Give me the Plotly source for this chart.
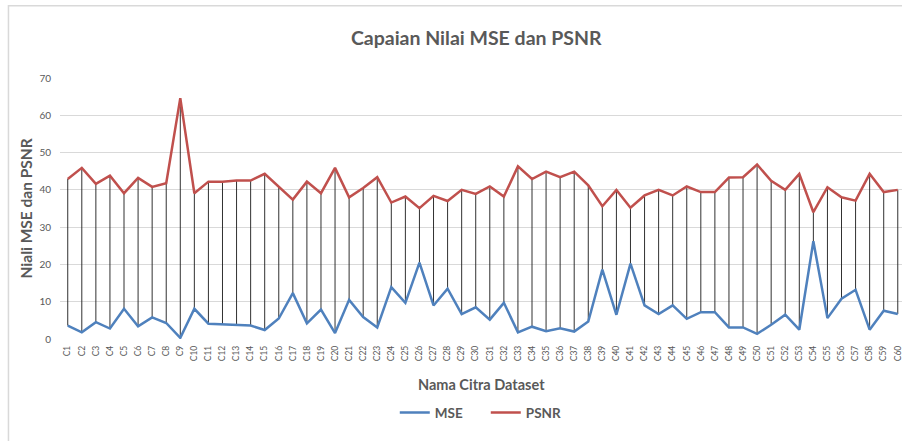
import plotly.graph_objects as go

categories = [f"C{i}" for i in range(1, 61)]

mse = [3.6, 1.8, 4.5, 2.8, 8.1, 3.4, 5.8, 4.3, 0.3, 8.1,
       4.1, 3.9, 3.6, 3.6, 2.4, 5.5, 12.3, 4.2, 7.9, 1.6,
       10.5, 5.9, 3.1, 13.9, 9.7, 20.5, 9.0, 13.5, 6.7, 8.5,
       5.2, 9.7, 1.8, 3.3, 2.1, 2.9, 2.0, 4.7, 18.6, 6.5,
       20.2, 9.0, 6.7, 9.0, 5.4, 7.2, 7.2, 3.1, 3.1, 1.4,
       3.8, 6.5, 2.5, 26.2, 5.6, 10.8, 13.2, 2.5, 7.6, 6.7]

psnr = [42.9, 45.9, 41.6, 43.8, 39.1, 43.2, 40.8, 41.8, 64.6, 39.1,
        42.2, 42.2, 42.5, 42.5, 44.3, 40.8, 37.4, 42.2, 39.1, 45.9,
        38.0, 40.5, 43.4, 36.6, 38.2, 35.1, 38.4, 37.0, 40.0, 38.9,
        40.9, 38.2, 46.3, 42.9, 44.9, 43.4, 44.9, 41.2, 35.6, 40.0,
        35.2, 38.5, 40.0, 38.5, 40.9, 39.4, 39.4, 43.3, 43.4, 46.8,
        42.4, 40.0, 44.3, 34.0, 40.7, 38.0, 37.1, 44.3, 39.4, 40.0]

y_ticks = [0, 10, 20, 30, 40, 50, 60, 70]

TXT = "#595959"
FONT = "Lato"

# high-low connector lines
hx, hy = [], []
for c, a, b in zip(categories, mse, psnr):
    hx += [c, c, None]
    hy += [a, b, None]

fig = go.Figure()
fig.add_trace(go.Scatter(x=hx, y=hy, mode="lines",
                         line=dict(color="#1a1a1a", width=0.9),
                         showlegend=False, hoverinfo="skip"))
fig.add_trace(go.Scatter(x=categories, y=mse, mode="lines", name="<b>MSE</b>",
                         line=dict(color="#4F81BD", width=2.5)))
fig.add_trace(go.Scatter(x=categories, y=psnr, mode="lines", name="<b>PSNR</b>",
                         line=dict(color="#C0504D", width=2.5)))

fig.update_layout(
    width=902, height=441,
    margin=dict(l=60, r=0, t=78, b=102, autoexpand=False),
    paper_bgcolor="white", plot_bgcolor="white",
    font=dict(family=FONT, color=TXT),
    title=dict(text="<b>Capaian Nilai MSE dan PSNR</b>", x=0.528, xanchor="center",
               y=0.914, yanchor="middle", font=dict(size=19.5, color=TXT, family=FONT)),
    showlegend=True,
    legend=dict(orientation="h", x=0.3976, xanchor="left", y=-0.282, yanchor="middle",
                font=dict(size=13.5, color=TXT, family=FONT), itemwidth=30,
                entrywidth=46, entrywidthmode="pixels",
                bgcolor="rgba(0,0,0,0)"),
)

fig.update_xaxes(type="category", categoryorder="array", categoryarray=categories,
                 range=[-0.55, 59.3], tickangle=-90, showgrid=False, automargin=False,
                 tickfont=dict(size=8.5, color=TXT, family=FONT), ticklabeloverflow="allow",
                 showline=False, zeroline=False, ticks="", ticklabelstandoff=4)
fig.update_yaxes(range=[0, 70], tickvals=y_ticks, showgrid=True, gridcolor="#d9d9d9",
                 gridwidth=1, zeroline=False, showline=False, ticks="", automargin=False,
                 tickfont=dict(size=10, color=TXT, family=FONT), ticklabelstandoff=8)

fig.add_annotation(text="<b>Nama Citra Dataset</b>", xref="paper", yref="paper",
                   x=0.5, y=-0.175, showarrow=False, xanchor="center", yanchor="middle",
                   font=dict(size=14.5, color=TXT, family=FONT))
fig.add_annotation(text="<b>Niali MSE dan PSNR</b>", xref="paper", yref="paper",
                   x=-0.0404, y=0.5, showarrow=False, textangle=-90,
                   xanchor="center", yanchor="middle",
                   font=dict(size=15.5, color=TXT, family=FONT))

# chart outer border
fig.add_shape(type="rect", xref="paper", yref="paper",
              x0=-0.0612, x1=1.05, y0=-0.45, y1=1.277,
              line=dict(color="#d9d9d9", width=1.5), fillcolor="rgba(0,0,0,0)", layer="below")

fig.write_html("out.html", config={"displayModeBar": False},
               post_script="document.body.style.margin='0';document.body.style.overflow='hidden';")
